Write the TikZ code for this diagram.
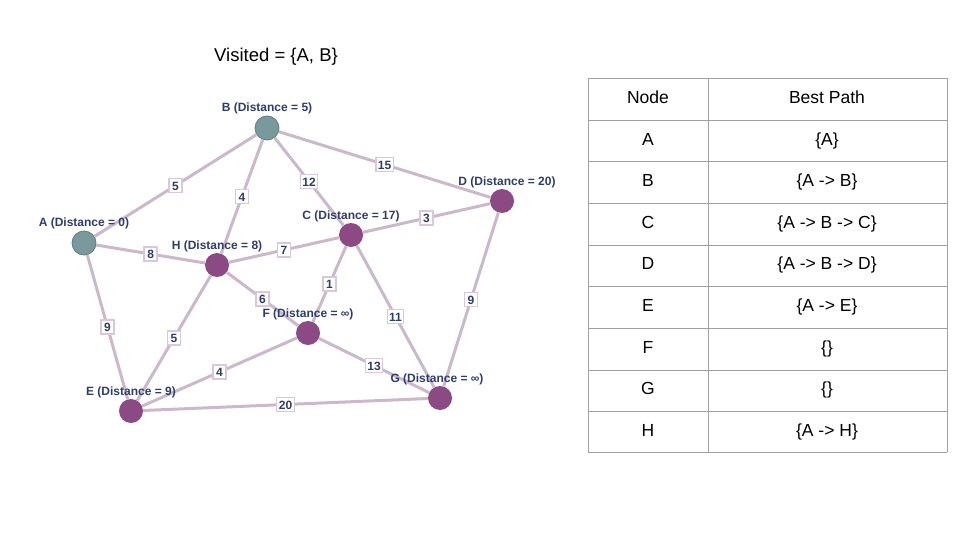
\documentclass[tikz,border=0pt]{standalone}
\usepackage{fontspec}
\setmainfont{Liberation Sans}
\usetikzlibrary{positioning}

\definecolor{seencol}{HTML}{7A999C}
\definecolor{seenline}{HTML}{5E7E84}
\definecolor{opencol}{HTML}{8C4A85}
\definecolor{edgecol}{HTML}{CBB8CB}
\definecolor{boxcol}{HTML}{D9C8D8}
\definecolor{inkcol}{HTML}{2F3D6E}
\definecolor{gridcol}{HTML}{A0A0A0}

\begin{document}
\begin{tikzpicture}[x=1pt, y=-1pt,
	vert/.style={circle, fill=opencol, minimum size=24pt, inner sep=0pt},
	seen/.style={vert, fill=seencol, draw=seenline, line width=0.8pt},
	dist/.style={text=inkcol, font=\fontsize{12}{14}\selectfont\bfseries, inner sep=0.5pt},
	edge/.style={draw=edgecol, line width=3pt},
	wt/.style={fill=white, draw=boxcol, line width=1.3pt, text=inkcol, font=\fontsize{12}{14}\selectfont\bfseries, inner xsep=2pt, inner ysep=2.5pt, text height=9pt, text depth=0pt, minimum width=13pt},
	cell/.style={font=\fontsize{17.5}{21}\selectfont, text=black, text height=12.5pt, text depth=3.5pt}]
	\useasboundingbox (0,0) rectangle (960,540);

	\node[font=\fontsize{18.5}{22}\selectfont] (title) at (276,57) {Visited = \{A, B\}};

	% graph
	\node[seen] (A) at (84,243) {};
	\node[seen] (B) at (267,128) {};
	\node[vert] (C) at (351,235) {};
	\node[vert] (D) at (502,201) {};
	\node[vert] (E) at (131,411) {};
	\node[vert] (F) at (308,333) {};
	\node[vert] (G) at (440,398) {};
	\node[vert] (H) at (217,265) {};

	\draw[edge] (A) -- node[wt] (wAB) {5} (B);
	\draw[edge] (B) -- node[wt] (wBH) {4} (H);
	\draw[edge] (B) -- node[wt] (wBC) {12} (C);
	\draw[edge] (B) -- node[wt] (wBD) {15} (D);
	\draw[edge] (A) -- node[wt] (wAH) {8} (H);
	\draw[edge] (A) -- node[wt] (wAE) {9} (E);
	\draw[edge] (H) -- node[wt] (wHC) {7} (C);
	\draw[edge] (C) -- node[wt] (wCD) {3} (D);
	\draw[edge] (C) -- node[wt] (wCF) {1} (F);
	\draw[edge] (C) -- node[wt] (wCG) {11} (G);
	\draw[edge] (D) -- node[wt] (wDG) {9} (G);
	\draw[edge] (H) -- node[wt] (wHF) {6} (F);
	\draw[edge] (H) -- node[wt] (wHE) {5} (E);
	\draw[edge] (F) -- node[wt] (wFE) {4} (E);
	\draw[edge] (F) -- node[wt] (wFG) {13} (G);
	\draw[edge] (E) -- node[wt] (wEG) {20} (G);

	\node[dist, above=0.5pt of A] (lA) {A (Distance = 0)};
	\node[dist, above=0.5pt of B] (lB) {B (Distance = 5)};
	\node[dist, above=0.5pt of C] (lC) {C (Distance = 17)};
	\node[dist, above=0.5pt of D, xshift=5pt] (lD) {D (Distance = 20)};
	\node[dist, above=0.5pt of E] (lE) {E (Distance = 9)};
	\node[dist, above=0.5pt of F] (lF) {F (Distance = ∞)};
	\node[dist, above=0.5pt of G, xshift=-3pt] (lG) {G (Distance = ∞)};
	\node[dist, above=0.5pt of H] (lH) {H (Distance = 8)};

	% table
	\foreach \y in {78,120,161,203,245,286,328,370,411,452}
		\draw[gridcol, line width=0.8pt] (588,\y) -- (947,\y);
	\foreach \x in {588,708,947}
		\draw[gridcol, line width=0.8pt] (\x,78) -- (\x,452);
	\node[cell] (hNode) at (648,99) {Node};
	\node[cell] (hPath) at (827,99) {Best Path};
	\foreach \n/\p [count=\i] in {A/{\{A\}}, B/{\{A -> B\}}, C/{\{A -> B -> C\}}, D/{\{A -> B -> D\}}, E/{\{A -> E\}}, F/{\{\}}, G/{\{\}}, H/{\{A -> H\}}} {
		\node[cell] (n\i) at (648,99+41.6*\i) {\n};
		\node[cell] (p\i) at (827,99+41.6*\i) {\p};
	}
\end{tikzpicture}
\end{document}
